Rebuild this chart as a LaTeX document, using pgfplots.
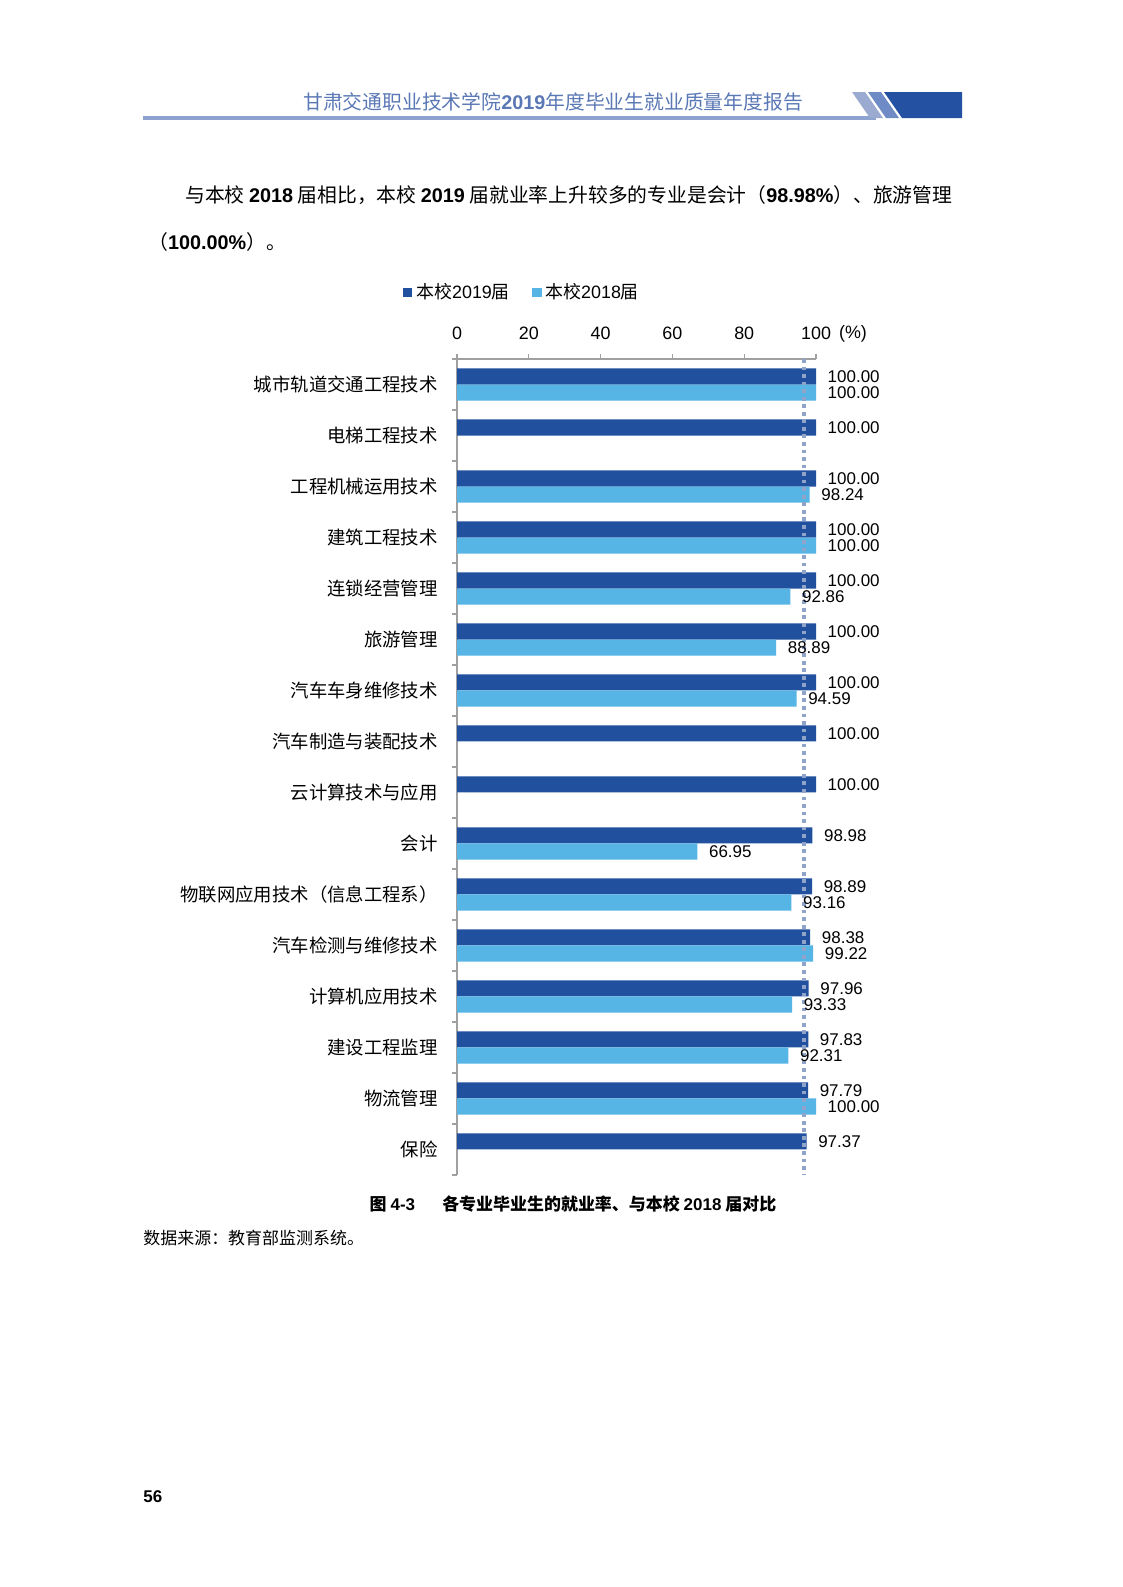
\documentclass[border=0pt]{standalone}
\usepackage{fontspec}
\setmainfont{Noto Sans CJK SC}
\newfontfamily\arial{Liberation Sans}
\usepackage{pgfplots}
\pgfplotsset{compat=1.18}
\definecolor{dk}{HTML}{21509F}
\definecolor{lt}{HTML}{57B5E6}
\definecolor{hdr}{HTML}{5A78B5}
\definecolor{hline}{HTML}{8EA2CF}
\definecolor{str1}{HTML}{9AAAD0}
\definecolor{str2}{HTML}{6E8BC6}
\definecolor{blk}{HTML}{2451A1}
\definecolor{dotc}{HTML}{8FA4C8}
\definecolor{axc}{HTML}{A0A0A0}
\newcommand\A[1]{{\arial #1}}
\newcommand\B[1]{{\arial\bfseries #1}}

\pgfplotstableread{
y v
0 100
1 100
2 100
3 100
4 100
5 100
6 100
7 100
8 100
9 98.98
10 98.89
11 98.38
12 97.96
13 97.83
14 97.79
15 97.37
}\cur
\pgfplotstableread{
y v
0 100
2 98.24
3 100
4 92.86
5 88.89
6 94.59
9 66.95
10 93.16
11 99.22
12 93.33
13 92.31
14 100
}\prev

\begin{document}
\begin{tikzpicture}[x=0.5303pt,y=-0.5303pt]
\path[fill=white] (0,0) rectangle (1122,1587);
% header
\node[anchor=west, text=hdr, inner sep=0pt, font=\fontsize{10.5}{12}\selectfont] at (303,102)
  {甘肃交通职业技术学院{\arial\bfseries 2019}年度毕业生就业质量年度报告};
\draw[hline, line width=1.6pt] (143,118) -- (876,118);
\fill[str1] (852,92) -- (865,92) -- (883,118) -- (870,118) -- cycle;
\fill[str2] (868,92) -- (881,92) -- (899,118) -- (886,118) -- cycle;
\fill[blk] (884,92) -- (962,92) -- (962,118) -- (902,118) -- cycle;
% body text
\node[anchor=west, inner sep=0pt, font=\fontsize{10.5}{12}\selectfont] at (185,195)
  {与本校 \B{2018} 届相比，本校 \B{2019} 届就业率上升较多的专业是会计（\B{98.98\%}）、旅游管理};
\node[anchor=west, inner sep=0pt, font=\fontsize{10.5}{12}\selectfont] at (148,242)
  {（\B{100.00\%}）。};
% axis unit
\node[anchor=center, inner sep=0pt, font=\arial\fontsize{9.5}{11}\selectfont] at (853,334) {(\%)};
% caption
\node[anchor=center, inner sep=0pt, font=\fontsize{9}{11}\selectfont\bfseries] at (573,1204)
  {图 \B{4-3}\hspace{1.6em}各专业毕业生的就业率、与本校 \B{2018} 届对比};
\node[anchor=west, inner sep=0pt, font=\fontsize{9}{11}\selectfont] at (143,1238)
  {数据来源：教育部监测系统。};
\node[anchor=west, inner sep=0pt, font=\arial\bfseries\fontsize{9}{11}\selectfont] at (143,1497) {56};

\coordinate (O) at (457,359);
\begin{axis}[
  at={(O)}, anchor=north west,
  scale only axis, width=190.4pt, height=432.7pt,
  xmin=0, xmax=100, ymin=-0.5, ymax=15.5,
  y dir=reverse,
  axis x line*=top, axis y line*=left,
  axis line style={axc, line width=0.6pt},
  tick style={axc, line width=0.6pt},
  tick align=outside,
  major tick length=2.4pt,
  xtick={0,20,...,100},
  /pgf/number format/assume math mode=true,
  xticklabel style={font=\arial\fontsize{9.5}{11}\selectfont, inner sep=0pt, anchor=south, yshift=7.6pt},
  ytick={-0.5,0.5,...,15.5},
  yticklabels={},
  extra y ticks={0,...,15},
  extra y tick labels={城市轨道交通工程技术,电梯工程技术,工程机械运用技术,建筑工程技术,连锁经营管理,旅游管理,汽车车身维修技术,汽车制造与装配技术,云计算技术与应用,会计,物联网应用技术（信息工程系）,汽车检测与维修技术,计算机应用技术,建设工程监理,物流管理,保险},
  extra y tick style={major tick length=0pt},
  yticklabel style={font=\fontsize{9.75}{11}\selectfont, inner sep=0pt, anchor=east, xshift=-10pt},
  clip=false,
  every node near coord/.append style={anchor=west, inner sep=0pt, xshift=6pt, text=black, font=\arial\fontsize{9}{10}\selectfont},
  legend style={at={(0.184,1.082)}, anchor=center, draw=none, fill=none, legend columns=2,
    font=\fontsize{9.5}{11}\selectfont, /tikz/every even column/.append style={column sep=10pt},
    inner sep=0pt},
  legend cell align=left,
  legend image code/.code={\fill[#1] (0pt,-2.4pt) rectangle (4.8pt,2.4pt);},
]
\addplot[xbar, bar width=8.5pt, bar shift=4.25pt, fill=dk, draw=none, point meta=x,
  every node near coord/.append style={yshift=4.25pt},
  nodes near coords={\pgfmathprintnumber[fixed,fixed zerofill,precision=2]{\pgfplotspointmeta}}]
  table[x=v, y=y] {\cur};
\addlegendentry{本校\A{2019}届}
\addplot[xbar, bar width=8.5pt, bar shift=-4.25pt, fill=lt, draw=none, point meta=x,
  every node near coord/.append style={yshift=-4.25pt},
  nodes near coords={\pgfmathprintnumber[fixed,fixed zerofill,precision=2]{\pgfplotspointmeta}}]
  table[x=v, y=y] {\prev};
\addlegendentry{本校\A{2018}届}
\addplot[forget plot, sharp plot, no marks, dotc, line width=2pt, dash pattern=on 2pt off 2pt]
  coordinates {(96.7,-0.5) (96.7,15.5)};
\end{axis}
\end{tikzpicture}
\end{document}
